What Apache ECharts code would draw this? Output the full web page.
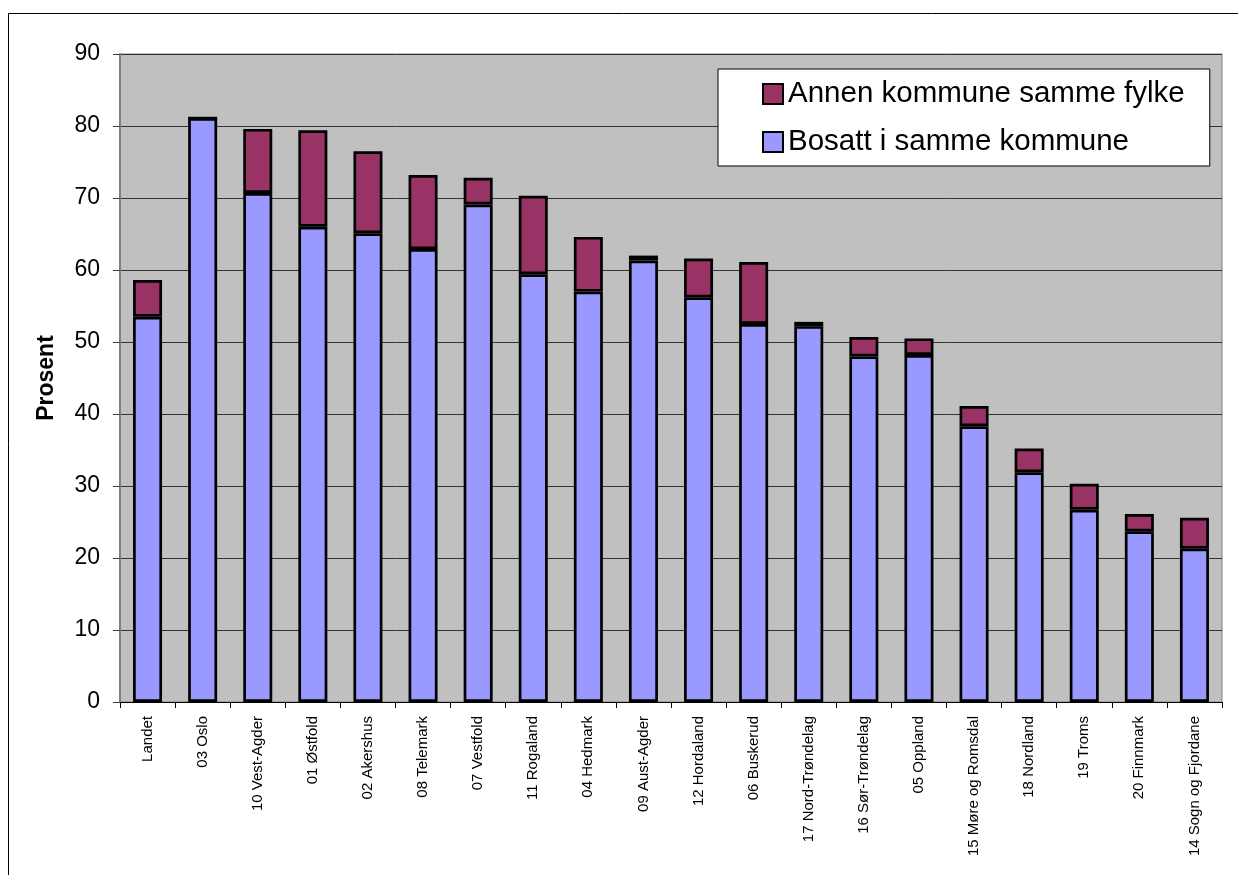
<!DOCTYPE html>
<html>
<head>
<meta charset="utf-8">
<title>Prosent bosatt</title>
<script src="https://cdn.jsdelivr.net/npm/echarts@6/dist/echarts.min.js"></script>
<style>
  html, body { margin: 0; padding: 0; background: #fff; }
  #chart { width: 1238px; height: 875px; }
</style>
</head>
<body>
<div id="chart"></div>
<script>
// categories (fylker), in the order shown
const categories = [
  'Landet', '03 Oslo', '10 Vest-Agder', '01 Østfold', '02 Akershus',
  '08 Telemark', '07 Vestfold', '11 Rogaland', '04 Hedmark', '09 Aust-Agder',
  '12 Hordaland', '06 Buskerud', '17 Nord-Trøndelag', '16 Sør-Trøndelag', '05 Oppland',
  '15 Møre og Romsdal', '18 Nordland', '19 Troms', '20 Finnmark', '14 Sogn og Fjordane'
]

// Bosatt i samme kommune (lower segment)
const bosatt = [
  53.5, 81.1, 70.7, 66.0, 65.1,
  62.9, 69.1, 59.4, 57.0, 61.3,
  56.2, 52.5, 52.2, 48.0, 48.2,
  38.3, 31.9, 26.7, 23.7, 21.3
]

// Annen kommune samme fylke (upper segment)
const annen = [
  5.1, 0, 8.9, 13.4, 11.4,
  10.3, 3.7, 10.9, 7.6, 0.7,
  5.4, 8.6, 0.6, 2.7, 2.3,
  2.8, 3.3, 3.6, 2.4, 4.3
]

const yTicks = { min: 0, max: 90, interval: 10 }

const font = "'Liberation Sans', Arial, sans-serif"

const chart = echarts.init(document.getElementById('chart'))

const option = {
  animation: false,
  textStyle: { fontFamily: font, color: '#000' },
  graphic: [
    {
      type: 'rect',
      z: -10,
      shape: { x: 8.5, y: 13.5, width: 1300, height: 1000 },
      style: { fill: 'none', stroke: '#000', lineWidth: 1 }
    }
  ],
  grid: {
    left: 120,
    right: 16,
    top: 54,
    bottom: 173,
    show: true,
    backgroundColor: '#C0C0C0',
    borderColor: '#808080',
    borderWidth: 1
  },
  legend: {
    orient: 'vertical',
    left: 718,
    top: 69,
    padding: [10, 25, 9, 44],
    backgroundColor: '#fff',
    borderColor: '#000',
    borderWidth: 1,
    borderRadius: 0,
    itemWidth: 20,
    itemHeight: 20,
    itemGap: 18,
    itemTextGap: 6,
    icon: 'rect',
    data: ['Annen kommune samme fylke', 'Bosatt i samme kommune'],
    textStyle: { fontFamily: font, fontSize: 29.5, color: '#000', lineHeight: 29 }
  },
  xAxis: {
    type: 'category',
    data: categories,
    boundaryGap: true,
    axisLine: { lineStyle: { color: '#000', width: 1 } },
    axisTick: { show: true, interval: 0, length: 6, lineStyle: { color: '#000' } },
    axisLabel: {
      interval: 0,
      rotate: 90,
      margin: 14,
      fontFamily: font,
      fontSize: 15,
      color: '#000'
    }
  },
  yAxis: {
    type: 'value',
    min: yTicks.min,
    max: yTicks.max,
    interval: yTicks.interval,
    name: 'Prosent',
    nameLocation: 'middle',
    nameRotate: 90,
    nameGap: 62,
    nameTextStyle: { fontFamily: font, fontSize: 23, fontWeight: 'bold', color: '#000' },
    axisLine: { show: true, lineStyle: { color: '#808080', width: 2 } },
    axisTick: { show: true, length: 7, lineStyle: { color: '#404040' } },
    axisLabel: { margin: 20, fontFamily: font, fontSize: 23, color: '#000' },
    splitLine: { lineStyle: { color: '#333', width: 1 } }
  },
  series: [
    {
      name: 'Bosatt i samme kommune',
      type: 'bar',
      stack: 'total',
      barWidth: 29,
      data: bosatt,
      itemStyle: { color: '#9999FF', borderColor: '#000', borderWidth: 2.7 }
    },
    {
      name: 'Annen kommune samme fylke',
      type: 'bar',
      stack: 'total',
      barWidth: 29,
      data: annen,
      itemStyle: { color: '#993366', borderColor: '#000', borderWidth: 2.7 }
    }
  ]
}

chart.setOption(option)
</script>
</body>
</html>
